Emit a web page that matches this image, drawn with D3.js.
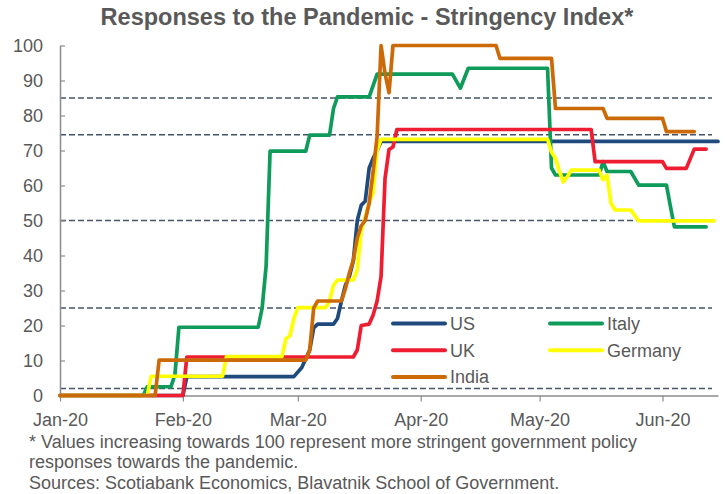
<!DOCTYPE html>
<html>
<head>
<meta charset="utf-8">
<script src="https://cdn.jsdelivr.net/npm/d3@7"></script>
<style>
  body { margin: 0; background: #fff; }
  text { font-family: "Liberation Sans", Arial, sans-serif; fill: #595959; }
</style>
</head>
<body>
<script>
var width = 725;
var height = 494;

// series as [date, index value]
var us = [
  ["2020-01-01", 0], ["2020-02-01", 0], ["2020-02-02", 5.4], ["2020-02-29", 5.4],
  ["2020-03-02", 8], ["2020-03-04", 13], ["2020-03-05", 19.3], ["2020-03-06", 20.4],
  ["2020-03-10", 20.4], ["2020-03-11", 22], ["2020-03-12", 27], ["2020-03-13", 31.5],
  ["2020-03-14", 34], ["2020-03-15", 38.5], ["2020-03-16", 50], ["2020-03-17", 54.4],
  ["2020-03-18", 55.5], ["2020-03-19", 65], ["2020-03-20", 67.8], ["2020-03-21", 70],
  ["2020-03-22", 72.6], ["2020-06-15", 72.6]
];
var italy = [
  ["2020-01-01", 0], ["2020-01-22", 0], ["2020-01-23", 2.5], ["2020-01-29", 2.5],
  ["2020-01-30", 6], ["2020-01-31", 19.5], ["2020-02-20", 19.5], ["2020-02-21", 25],
  ["2020-02-22", 37], ["2020-02-23", 69.8], ["2020-03-03", 69.8], ["2020-03-04", 74.4],
  ["2020-03-09", 74.4], ["2020-03-10", 82], ["2020-03-11", 85.3], ["2020-03-19", 85.3],
  ["2020-03-21", 91.8], ["2020-04-09", 91.8], ["2020-04-11", 87.8], ["2020-04-13", 93.5],
  ["2020-05-03", 93.5], ["2020-05-04", 65], ["2020-05-05", 63], ["2020-05-16", 63],
  ["2020-05-17", 66.8], ["2020-05-18", 64], ["2020-05-24", 64], ["2020-05-26", 60.1],
  ["2020-06-02", 60.1], ["2020-06-03", 54], ["2020-06-04", 48.2], ["2020-06-12", 48.2]
];
var uk = [
  ["2020-01-01", 0], ["2020-02-01", 0], ["2020-02-02", 11], ["2020-03-15", 11],
  ["2020-03-16", 13], ["2020-03-17", 20], ["2020-03-19", 20.4], ["2020-03-20", 23],
  ["2020-03-21", 27], ["2020-03-22", 34], ["2020-03-23", 62], ["2020-03-24", 70.3],
  ["2020-03-25", 71], ["2020-03-26", 76], ["2020-05-14", 76], ["2020-05-15", 66.8],
  ["2020-06-01", 66.8], ["2020-06-02", 64.9], ["2020-06-07", 64.9], ["2020-06-09", 70.4],
  ["2020-06-12", 70.4]
];
var germany = [
  ["2020-01-01", 0], ["2020-01-23", 0], ["2020-01-24", 5.5], ["2020-02-11", 5.5],
  ["2020-02-12", 11.1], ["2020-02-26", 11.1], ["2020-02-27", 16.3], ["2020-02-28", 17],
  ["2020-02-29", 22], ["2020-03-01", 25.1], ["2020-03-08", 25.1], ["2020-03-09", 27],
  ["2020-03-10", 31.5], ["2020-03-11", 33], ["2020-03-15", 33], ["2020-03-16", 36],
  ["2020-03-17", 47], ["2020-03-18", 51], ["2020-03-19", 55], ["2020-03-20", 58],
  ["2020-03-21", 70], ["2020-03-22", 73.2], ["2020-05-03", 73.2], ["2020-05-04", 69.5],
  ["2020-05-05", 67.8], ["2020-05-06", 64], ["2020-05-07", 61], ["2020-05-08", 62.5],
  ["2020-05-09", 64.4], ["2020-05-16", 64.4], ["2020-05-17", 61.6], ["2020-05-18", 63],
  ["2020-05-19", 55], ["2020-05-20", 53], ["2020-05-24", 53], ["2020-05-26", 49.9],
  ["2020-06-14", 49.9]
];
var india = [
  ["2020-01-01", 0], ["2020-01-25", 0], ["2020-01-26", 10.1], ["2020-03-03", 10.1],
  ["2020-03-04", 13], ["2020-03-05", 25], ["2020-03-06", 27], ["2020-03-12", 27],
  ["2020-03-13", 30.5], ["2020-03-14", 35], ["2020-03-15", 38.7], ["2020-03-16", 45],
  ["2020-03-17", 48.5], ["2020-03-18", 50], ["2020-03-19", 55], ["2020-03-20", 64],
  ["2020-03-21", 74], ["2020-03-22", 100], ["2020-03-23", 92], ["2020-03-24", 86.5],
  ["2020-03-25", 100], ["2020-04-20", 100], ["2020-04-21", 96.3], ["2020-05-04", 96.3],
  ["2020-05-05", 82], ["2020-05-17", 82], ["2020-05-18", 79.2], ["2020-06-01", 79.2],
  ["2020-06-02", 75.4], ["2020-06-09", 75.4]
];

var seriesNames = ["US", "Italy", "UK", "Germany", "India"];
var seriesData = [us, italy, uk, germany, india];
var colors = ["#1f4a7d", "#0f9b5a", "#ee1d31", "#ffff00", "#cc6a08"];
var refLines = [85, 74.5, 50, 25, 2];
var monthTicks = ["2020-01-01", "2020-02-01", "2020-03-01", "2020-04-01", "2020-05-01", "2020-06-01"];
var yTicks = [0, 10, 20, 30, 40, 50, 60, 70, 80, 90, 100];
var notes = [
  "* Values increasing towards 100 represent more stringent government policy",
  "responses towards the pandemic.",
  "Sources: Scotiabank Economics, Blavatnik School of Government."
];

var parse = d3.timeParse("%Y-%m-%d");

var svg = d3.select("body")
            .append("svg")
            .attr("width", width)
            .attr("height", height);

var x = d3.scaleTime()
          .domain([parse("2020-01-01"), parse("2020-06-15")])
          .range([60, 718]);
var y = d3.scaleLinear()
          .domain([0, 100])
          .range([395.5, 45.5]);

svg.append("text")
   .attr("x", 367)
   .attr("y", 25)
   .attr("text-anchor", "middle")
   .style("font-size", "23.5px")
   .style("font-weight", "bold")
   .text("Responses to the Pandemic - Stringency Index*");

// dashed reference lines
svg.selectAll(".ref")
   .data(refLines)
   .enter().append("line")
   .attr("x1", 60)
   .attr("x2", 712)
   .attr("y1", function(d) { return y(d); })
   .attr("y2", function(d) { return y(d); })
   .attr("stroke", "#44546a")
   .attr("stroke-width", 1.5)
   .attr("stroke-dasharray", "6,3");

// axes
var xAxis = svg.append("g")
   .attr("transform", "translate(0," + y(0) + ")")
   .call(d3.axisBottom(x)
     .tickValues(monthTicks.map(parse))
     .tickFormat(d3.timeFormat("%b-%y"))
     .tickSizeInner(6)
     .tickSizeOuter(0)
     .tickPadding(12));

var yAxis = svg.append("g")
   .attr("transform", "translate(" + x.range()[0] + ",0)")
   .call(d3.axisLeft(y)
     .tickValues(yTicks)
     .tickSizeInner(-5)
     .tickSizeOuter(0)
     .tickPadding(17));

[xAxis, yAxis].forEach(function(g) {
  g.select(".domain").attr("stroke", "#8c8c8c").attr("stroke-width", 1.5);
  g.selectAll(".tick line").attr("stroke", "#8c8c8c").attr("stroke-width", 1.2);
  g.selectAll(".tick text")
   .style("font-size", "18px")
   .style("font-family", "'Liberation Sans', Arial, sans-serif")
   .attr("fill", "#595959");
});

// series lines
var line = d3.line()
   .x(function(d) { return x(parse(d[0])); })
   .y(function(d) { return y(d[1]); });

for (var i = 0; i < seriesData.length; i++) {
  svg.append("path")
     .datum(seriesData[i])
     .attr("fill", "none")
     .attr("stroke", colors[i])
     .attr("stroke-width", 3.7)
     .attr("stroke-linejoin", "round")
     .attr("stroke-linecap", "round")
     .attr("d", line);
}

// legend, two columns filled row by row
var legend = svg.append("g");
seriesNames.forEach(function(name, i) {
  var col = i % 2;
  var row = Math.floor(i / 2);
  var lx = col === 0 ? 393 : 550;
  var ly = 323.5 + row * 26.7;
  legend.append("line")
     .attr("x1", lx).attr("x2", lx + 52)
     .attr("y1", ly).attr("y2", ly)
     .attr("stroke", colors[i])
     .attr("stroke-width", 4)
     .attr("stroke-linecap", "round");
  legend.append("text")
     .attr("x", lx + 57)
     .attr("y", ly)
     .attr("dy", "0.35em")
     .style("font-size", "18px")
     .text(name);
});

// footnotes
svg.selectAll(".note")
   .data(notes)
   .enter().append("text")
   .attr("x", 29)
   .attr("y", function(d, i) { return 447.5 + i * 20.5; })
   .style("font-size", "18px")
   .text(function(d) { return d; });
</script>
</body>
</html>
